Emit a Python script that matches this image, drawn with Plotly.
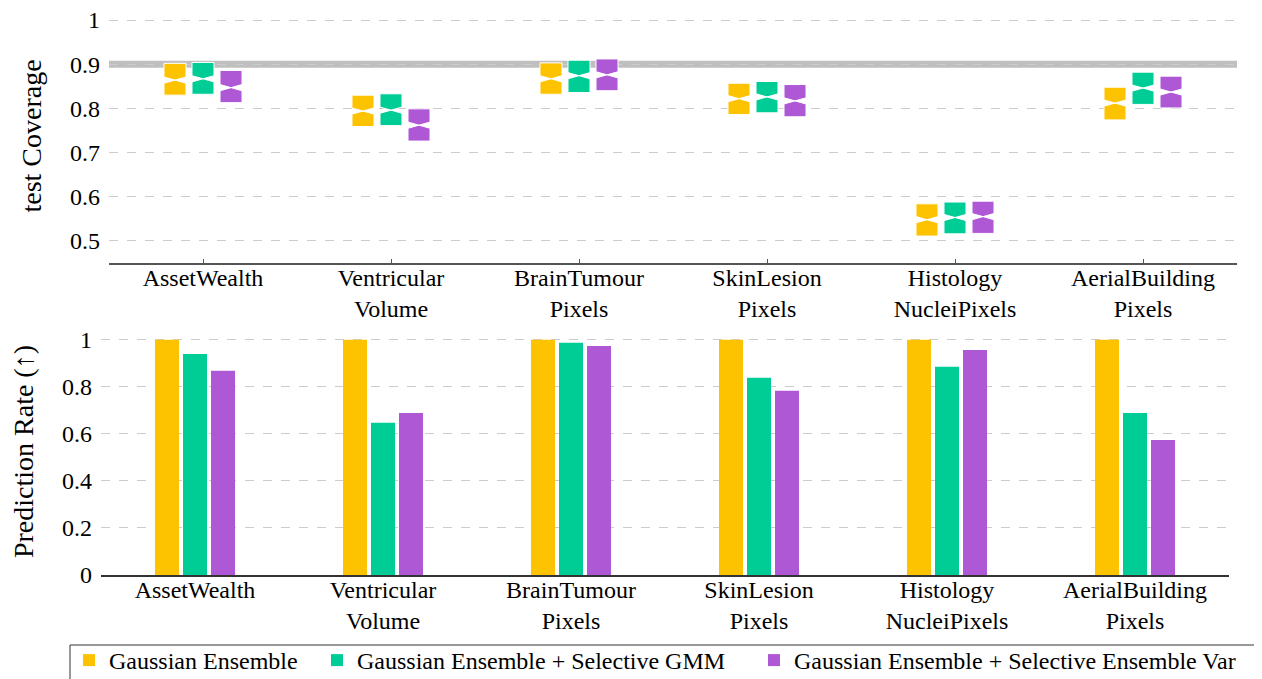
import plotly.graph_objects as go

categories = ["AssetWealth", "Ventricular<br>Volume", "BrainTumour<br>Pixels",
              "SkinLesion<br>Pixels", "Histology<br>NucleiPixels", "AerialBuilding<br>Pixels"]
series_names = ["Gaussian Ensemble", "Gaussian Ensemble + Selective GMM",
                "Gaussian Ensemble + Selective Ensemble Var"]
colors = ["#FDC300", "#00CC96", "#AF58D6"]

# test coverage boxes (q1, median, q3) per series
cov_q1 = [
    [0.830, 0.759, 0.832, 0.786, 0.511, 0.774],
    [0.832, 0.761, 0.836, 0.790, 0.516, 0.809],
    [0.813, 0.726, 0.840, 0.781, 0.517, 0.801],
]
cov_med = [
    [0.864, 0.794, 0.867, 0.822, 0.548, 0.812],
    [0.867, 0.796, 0.874, 0.826, 0.553, 0.846],
    [0.847, 0.762, 0.876, 0.817, 0.555, 0.837],
]
cov_q3 = [
    [0.902, 0.830, 0.903, 0.857, 0.584, 0.848],
    [0.904, 0.833, 0.909, 0.861, 0.588, 0.882],
    [0.886, 0.799, 0.912, 0.854, 0.590, 0.873],
]
notch = 0.007
target_coverage = 0.9

# prediction rate bars
pred_rate = [
    [1.0, 1.0, 1.0, 1.0, 1.0, 1.0],
    [0.940, 0.647, 0.987, 0.838, 0.885, 0.689],
    [0.868, 0.689, 0.974, 0.783, 0.957, 0.574],
]

cov_ticks = [0.5, 0.6, 0.7, 0.8, 0.9, 1.0]
cov_ticktext = ["0.5", "0.6", "0.7", "0.8", "0.9", "1"]
rate_ticks = [0, 0.2, 0.4, 0.6, 0.8, 1.0]
rate_ticktext = ["0", "0.2", "0.4", "0.6", "0.8", "1"]

FONT = "'Liberation Serif', 'DejaVu Serif', serif"
OFF = 8  # page body margin
W, H = 1262 - OFF, 679 - OFF

def px(p):
    return (p - OFF) / W

def py(p):
    return 1 - (p - OFF) / H

legend_ids = ["legend", "legend2", "legend3"]
legend_left = [69, 317, 754]

fig = go.Figure()

for i in range(3):
    fig.add_trace(go.Box(
        x=categories, q1=cov_q1[i], median=cov_med[i], q3=cov_q3[i],
        notchspan=[notch] * len(categories), notched=True, notchwidth=0.5,
        fillcolor=colors[i], line=dict(color="white", width=1),
        whiskerwidth=0, name=series_names[i], showlegend=False,
        xaxis="x", yaxis="y", hoverinfo="skip",
    ))

for i in range(3):
    fig.add_trace(go.Bar(
        x=categories, y=pred_rate[i], name=series_names[i],
        marker=dict(color=colors[i], line=dict(width=0)),
        xaxis="x2", yaxis="y2", legend=legend_ids[i],
    ))

fig.add_shape(type="line", xref="x domain", yref="y", x0=0, x1=1,
              y0=target_coverage, y1=target_coverage,
              line=dict(color="#BFBFBF", width=7), layer="below")

# legend frame
fig.add_shape(type="rect", xref="paper", yref="paper",
              x0=px(70), x1=px(1260), y0=py(690), y1=py(645),
              line=dict(color="#333333", width=1), fillcolor="rgba(0,0,0,0)")

grid = dict(showgrid=True, gridcolor="#CCCCCC", griddash="dash", gridwidth=1)
tick_font = dict(family=FONT, size=24, color="black")
title_font = dict(family=FONT, size=28, color="black")

legend_common = dict(orientation="h", xanchor="left", yanchor="top", y=py(638),
                     borderwidth=0, bgcolor="rgba(0,0,0,0)",
                     font=dict(family=FONT, size=24, color="black"), itemwidth=30)

fig.update_layout(
    width=W, height=H,
    margin=dict(l=0, r=0, t=0, b=0, autoexpand=False),
    paper_bgcolor="white", plot_bgcolor="white",
    font=dict(family=FONT, size=24, color="black"),
    boxmode="group", boxgap=0.553, boxgroupgap=0.214,
    barmode="group", bargap=0.553, bargroupgap=0.143,
    xaxis=dict(domain=[px(109), px(1237)], anchor="y", type="category",
               showline=True, linecolor="#555555", linewidth=1.5,
               ticks="inside", ticklen=4, tickcolor="#555555", tickfont=tick_font,
               showgrid=False, zeroline=False, range=[-0.5, 5.5],
               ticklabelstandoff=-8, automargin=False),
    yaxis=dict(domain=[py(263), py(9)], anchor="x", range=[0.45, 1.025],
               tickvals=cov_ticks, ticktext=cov_ticktext, showline=False,
               zeroline=False, ticks="", ticklabelstandoff=8, automargin=False,
               ticklabeloverflow="allow", tickfont=tick_font,
               title=dict(text="test Coverage", font=title_font, standoff=20),
               **grid),
    xaxis2=dict(domain=[px(101), px(1229)], anchor="y2", type="category",
                showline=True, linecolor="#333333", linewidth=1.5,
                ticks="", showgrid=False, zeroline=False, range=[-0.5, 5.5],
                ticklabelstandoff=-8, automargin=False, tickfont=tick_font),
    yaxis2=dict(domain=[py(575), py(328)], anchor="x2", range=[0, 1.05],
                tickvals=rate_ticks, ticktext=rate_ticktext, showline=False,
                zeroline=False, ticks="", ticklabelstandoff=8, automargin=False,
                ticklabeloverflow="allow", tickfont=tick_font,
                title=dict(text="Prediction Rate (↑)", font=title_font, standoff=22),
                **grid),
    legend=dict(x=px(legend_left[0]), **legend_common),
    legend2=dict(x=px(legend_left[1]), **legend_common),
    legend3=dict(x=px(legend_left[2]), **legend_common),
)

fig.write_html("out.html")
